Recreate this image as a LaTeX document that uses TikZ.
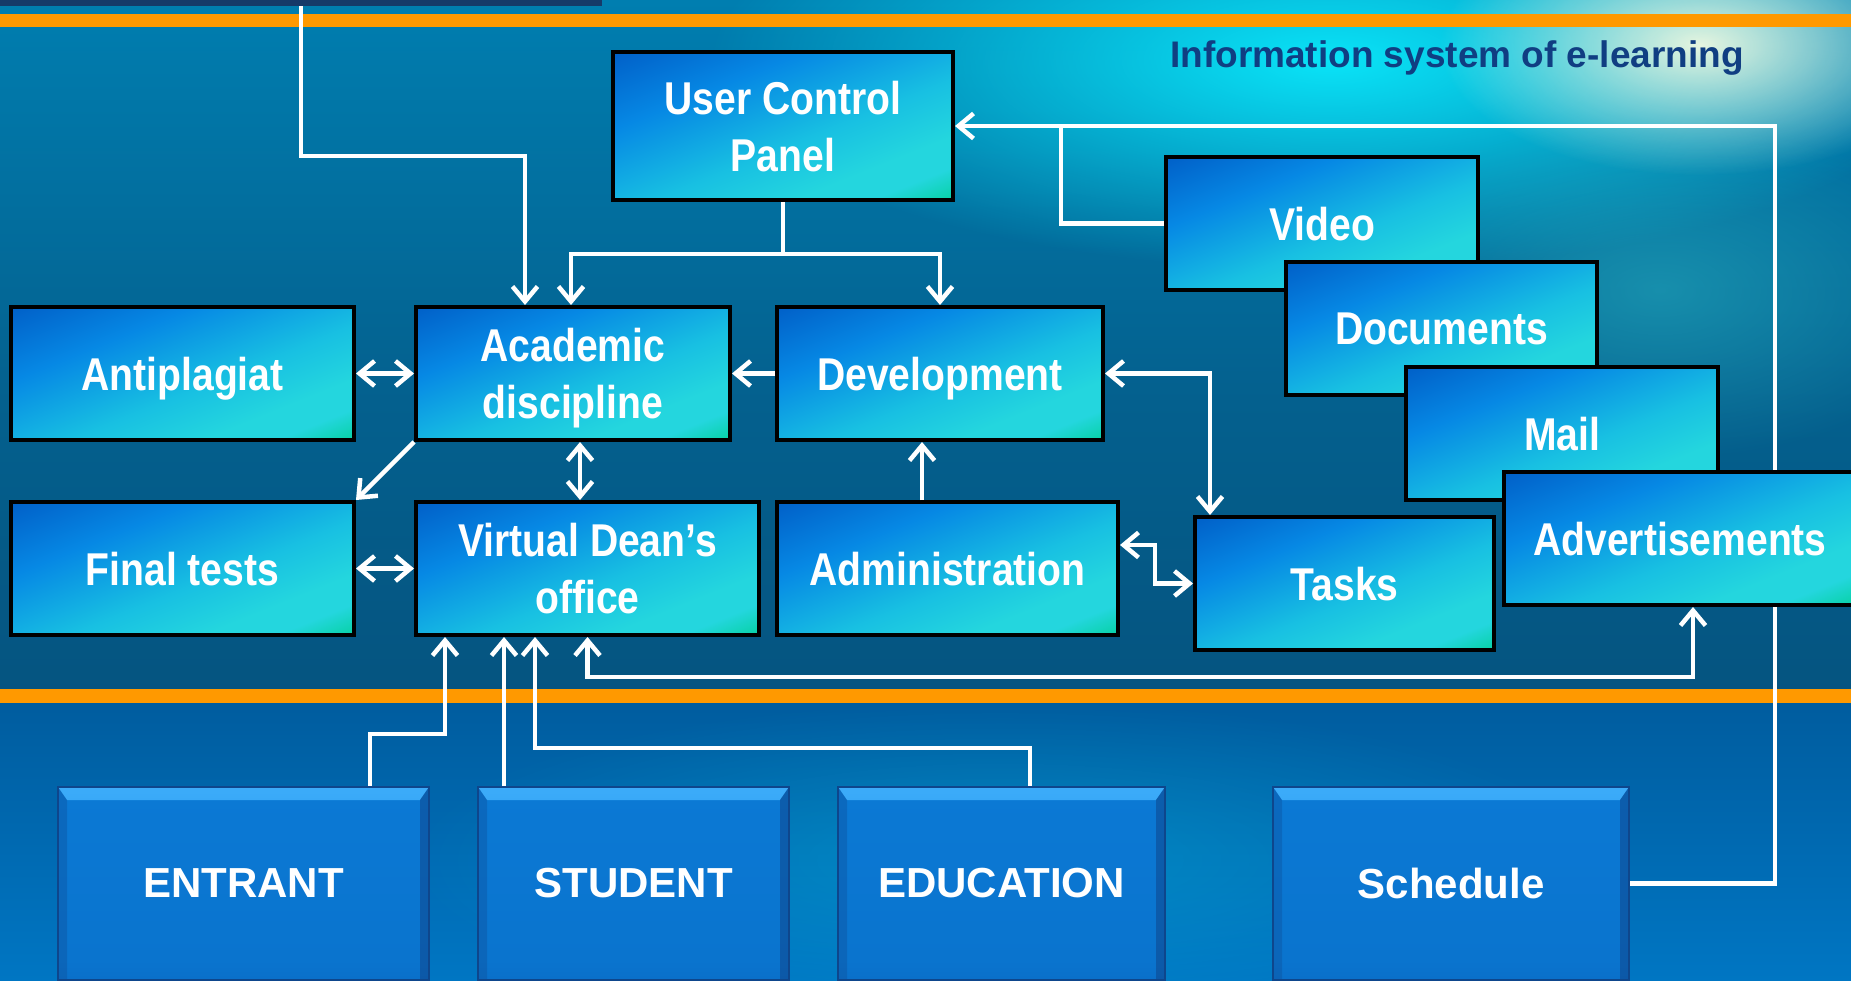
\documentclass[tikz,border=0pt]{standalone}
\usepackage{fontspec}
\setmainfont{Liberation Sans}
\newfontfamily\boxfont{Liberation Sans}[FakeStretch=0.85]
\usetikzlibrary{arrows.meta,fadings}
\tikzfading[name=glowfade, inner color=transparent!0, outer color=transparent!100]
\newcommand{\lastline}[1]{\raisebox{0pt}[\height][0pt]{#1}}
\definecolor{orangeL}{RGB}{255,153,0}
\definecolor{navyBar}{RGB}{22,58,105}
\definecolor{titleC}{RGB}{16,62,130}
\definecolor{bgT1}{RGB}{0,126,176}
\definecolor{bgT2}{RGB}{4,96,142}
\definecolor{bgT3}{RGB}{5,84,128}
\definecolor{bgB1}{RGB}{0,92,158}
\definecolor{bgB2}{RGB}{0,118,195}
\definecolor{glowC}{RGB}{10,228,248}
\definecolor{glowW}{RGB}{242,250,225}
\definecolor{glowT}{RGB}{40,175,190}
\definecolor{bxA}{RGB}{0,90,196}
\definecolor{bxB}{RGB}{6,136,228}
\definecolor{bxC}{RGB}{24,192,226}
\definecolor{bxD}{RGB}{36,214,222}
\definecolor{bxE}{RGB}{8,210,168}
\definecolor{btnBot}{RGB}{12,78,158}
\definecolor{btnLow}{RGB}{10,98,188}
\definecolor{btnMid}{RGB}{10,116,206}
\definecolor{btnMid2}{RGB}{12,124,216}
\definecolor{btnHi}{RGB}{60,172,250}
\definecolor{btnEdge}{RGB}{14,70,140}
\pgfdeclarehorizontalshading{boxshade}{100bp}{color(0bp)=(bxA); color(15bp)=(bxA); color(35bp)=(bxB); color(55bp)=(bxC); color(68bp)=(bxD); color(75bp)=(bxD); color(82bp)=(bxE); color(100bp)=(bxE)}
\pgfdeclareverticalshading{btnshade}{100bp}{color(0bp)=(btnBot); color(10bp)=(btnLow); color(30bp)=(btnMid); color(100bp)=(btnMid2)}
\pgfdeclarelayer{bg}
\pgfdeclarelayer{under}
\pgfsetlayers{bg,under,main}
\tikzset{
  box/.style={draw=black, line width=4pt, shade, shading=boxshade, shading angle=-68,
    text=white, font=\boxfont\bfseries\fontsize{46}{57}\selectfont, align=center, inner sep=0pt},
  onebox/.style={box, text depth=0pt},
  btn/.style={draw=btnEdge, line width=2pt, shade, shading=btnshade,
    text=white, font=\bfseries\fontsize{42}{50}\selectfont, inner sep=0pt,
    minimum height=193pt,
    path picture={
      \shade[top color=btnHi, bottom color=btnMid2]
        (path picture bounding box.north west) -- (path picture bounding box.north east)
        -- ([xshift=-9pt,yshift=-13pt]path picture bounding box.north east)
        -- ([xshift=9pt,yshift=-13pt]path picture bounding box.north west) -- cycle;
      \fill[btnEdge, opacity=0.55]
        (path picture bounding box.north east)
        -- ([xshift=-9pt,yshift=-13pt]path picture bounding box.north east)
        -- ([xshift=-9pt]path picture bounding box.south east)
        -- (path picture bounding box.south east) -- cycle;
      \fill[btnEdge, opacity=0.3]
        (path picture bounding box.north west)
        -- ([xshift=9pt,yshift=-13pt]path picture bounding box.north west)
        -- ([xshift=9pt]path picture bounding box.south west)
        -- (path picture bounding box.south west) -- cycle;
    }},
  conn/.style={draw=white, line width=4.5pt},
  >={Straight Barb[length=15pt,width=25pt]}
}
\begin{document}
\begin{tikzpicture}[x=1pt,y=-1pt]
\useasboundingbox (0,0) rectangle (1851,981);
\begin{pgfonlayer}{bg}
  \shade[top color=bgT1, bottom color=bgT2] (0,0) rectangle (1851,400);
  \shade[top color=bgT2, bottom color=bgT3] (0,400) rectangle (1851,696);
  \shade[top color=bgB1, bottom color=bgB2] (0,696) rectangle (1851,981);
  \fill[glowC, path fading=glowfade, opacity=1] (1330,60) ellipse [x radius=620pt, y radius=210pt];
  \fill[glowT, path fading=glowfade, opacity=0.55] (1660,290) ellipse [x radius=320pt, y radius=170pt];
  \fill[glowW, path fading=glowfade, opacity=0.95] (1700,45) ellipse [x radius=260pt, y radius=130pt];
  \fill[glowC, path fading=glowfade, opacity=0.25] (1000,860) ellipse [x radius=600pt, y radius=160pt];
  \fill[orangeL] (0,14) rectangle (1851,27);
  \fill[orangeL] (0,689) rectangle (1851,703);
\end{pgfonlayer}

\node[fill=navyBar, minimum width=602pt, minimum height=16pt, inner sep=0pt] (topbar) at (301,-2) {};
\node[text=titleC, font=\bfseries\fontsize{37}{44}\selectfont, anchor=base west, inner sep=0pt] (title) at (1170,68) {Information system of e-learning};

\node[box, minimum width=340pt, minimum height=148pt] (ucp) at (783,126) {User Control\\\lastline{Panel}};
\node[box, minimum width=314pt, minimum height=133pt] (acad) at (573,373.5) {Academic\\\lastline{discipline}};
\node[onebox, minimum width=343pt, minimum height=133pt] (anti) at (182.5,373.5) {Antiplagiat};
\node[onebox, minimum width=326pt, minimum height=133pt] (dev) at (940,373.5) {Development};
\node[onebox, minimum width=343pt, minimum height=133pt] (final) at (182.5,568.5) {Final tests};
\node[box, minimum width=343pt, minimum height=133pt] (vdo) at (587.5,568.5) {Virtual Dean’s\\\lastline{office}};
\node[onebox, minimum width=341pt, minimum height=133pt] (admin) at (947.5,568.5) {Administration};
\node[onebox, minimum width=299pt, minimum height=133pt] (tasks) at (1344.5,583.5) {Tasks};
\node[onebox, minimum width=312pt, minimum height=133pt] (video) at (1322,223.5) {Video};
\node[onebox, minimum width=311pt, minimum height=133pt] (docs) at (1441.5,328.5) {Documents};
\node[onebox, minimum width=312pt, minimum height=133pt] (mail) at (1562,433.5) {Mail};
\node[onebox, minimum width=352pt, minimum height=133pt] (adv) at (1680,538.5) {Advertisements};

\node[btn, minimum width=371pt] (entrant) at (243.5,883.5) {ENTRANT};
\node[btn, minimum width=311pt] (student) at (633.5,883.5) {STUDENT};
\node[btn, minimum width=327pt] (education) at (1001.5,883.5) {EDUCATION};
\node[btn, minimum width=356pt] (schedule) at (1451,883.5) {Schedule};

\coordinate (tA) at (301,0);
\coordinate (c1) at (525,156);
\coordinate (j1) at (0,254);
\coordinate (j2) at (571,0);
\coordinate (vA) at (580,0);
\coordinate (vB) at (922,0);
\coordinate (vC) at (1210,0);
\coordinate (aT) at (1155,545);
\coordinate (hE) at (1693,677);
\coordinate (rR) at (1775,500);
\coordinate (vG) at (1061,126);
\coordinate (vH) at (370,0);
\coordinate (hH) at (445,734);
\coordinate (vI) at (504,0);
\coordinate (vJ) at (1030,0);
\coordinate (hJ) at (535,748);

\begin{pgfonlayer}{under}
  \draw[conn,->] (schedule.east) -| (rR) |- (ucp.east);
\end{pgfonlayer}

\draw[conn,->] (topbar.south -| tA) |- (c1) -- (c1 |- acad.north);
\draw[conn,->] (ucp.south) -- (ucp.south |- j1) -| (dev.north);
\draw[conn,->] (ucp.south |- j1) -| (j2 |- acad.north);
\draw[conn] (video.west) -| (vG);
\draw[conn,<->] (anti.east) -- (acad.west);
\draw[conn,->] (dev.west) -- (acad.east);
\draw[conn,<->] (acad.south -| vA) -- (vdo.north -| vA);
\draw[conn,->] (acad.south west) -- (final.north east);
\draw[conn,<->] (final.east) -- (vdo.west);
\draw[conn,->] (admin.north -| vB) -- (dev.south -| vB);
\draw[conn,<->] (dev.east) -| (vC |- tasks.north);
\draw[conn,<->] (admin.east |- aT) -- (aT) |- (tasks.west);
\draw[conn,<->] (vdo.south) |- (hE) -- (hE |- adv.south);
\draw[conn,->] (entrant.north -| vH) |- (hH) -- (hH |- vdo.south);
\draw[conn,->] (student.north -| vI) -- (vdo.south -| vI);
\draw[conn,->] (education.north -| vJ) |- (hJ) -- (hJ |- vdo.south);
\end{tikzpicture}
\end{document}
